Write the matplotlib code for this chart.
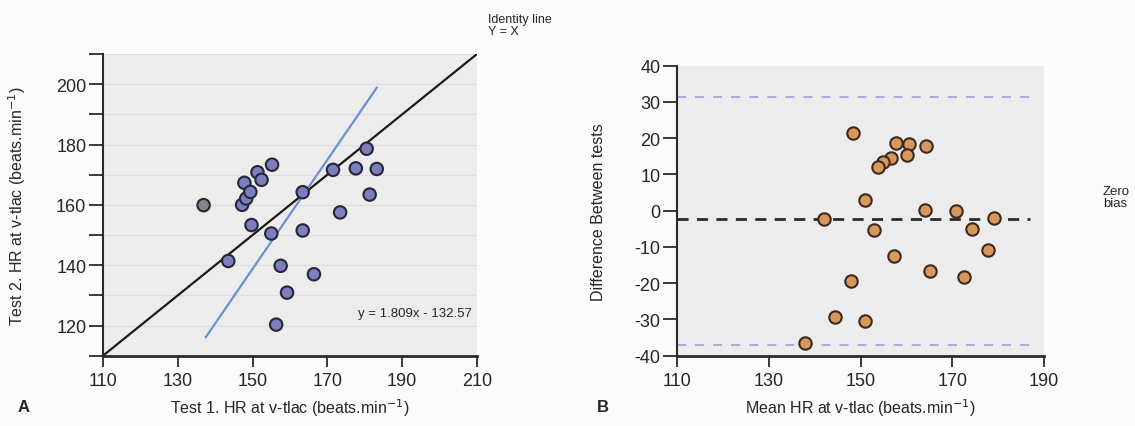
import numpy as np
import matplotlib
matplotlib.use('Agg')
import matplotlib.pyplot as plt

plt.rcParams['font.family'] = ['Liberation Sans', 'DejaVu Sans']
plt.rcParams['axes.unicode_minus'] = False

# Panel A: test 1 vs test 2 HR at v-tlac
test1 = [136.9, 143.5, 147.8, 147.2, 148.3, 149.4, 149.7, 151.3, 152.4, 155.2, 155.0, 156.3,
         157.5, 159.2, 163.4, 163.4, 166.4, 171.5, 173.4, 177.6, 180.5, 181.3, 183.2]
test2 = [159.9, 141.4, 167.3, 160.0, 162.1, 164.3, 153.3, 170.8, 168.3, 173.3, 150.5, 120.3,
         139.8, 130.9, 164.2, 151.5, 137.0, 171.6, 157.5, 172.1, 178.6, 163.4, 171.9]
slope, intercept = 1.809, -132.57
fit_range = [137.5, 183.2]

# Panel B: Bland-Altman
mean_hr = [148.4, 157.7, 160.6, 164.3, 160.1, 156.7, 154.8, 153.8, 150.9, 164.0, 170.8, 142.1,
           179.0, 152.9, 174.4, 177.7, 157.4, 165.1, 172.5, 147.9, 144.5, 150.9, 137.9]
diff = [21.4, 18.7, 18.3, 17.8, 15.4, 14.5, 13.3, 12.1, 3.0, 0.2, -0.2, -2.3,
        -1.9, -5.3, -5.1, -10.9, -12.5, -16.6, -18.3, -19.3, -29.2, -30.3, -36.5]
bias = -2.2
upper_loa = 31.3
lower_loa = -37.0

fig = plt.figure(figsize=(11.35, 4.27), dpi=100)
fig.patch.set_facecolor('#fbfbfb')

bg = '#ececec'
txt = '#262626'
axA = fig.add_axes([103 / 1135, 1 - 356.7 / 427, 374 / 1135, 301.7 / 427])
axB = fig.add_axes([677 / 1135, 1 - 356.7 / 427, 367 / 1135, 290 / 427])

# ---- panel A ----
axA.set_facecolor(bg)
for yv in range(120, 211, 10):
    axA.axhline(yv, color='#dedede', lw=0.8, zorder=0)
axA.plot([110, 210], [110, 210], color='#1a1a1a', lw=1.6, zorder=2)
xf = np.array(fit_range)
axA.plot(xf, slope * xf + intercept, color='#6f8ed6', lw=1.6, zorder=2)
faces = ['#7f8a85'] + ['#7b7fc0'] * (len(test1) - 1)
axA.scatter(test1, test2, s=80, c=faces, edgecolors='#262638', linewidths=1.5, zorder=3)
axA.set_xlim(110, 210)
axA.set_ylim(110, 210)
axA.set_xticks(range(110, 211, 20))
axA.set_yticks(range(120, 201, 20))
axA.set_yticks(range(110, 211, 10), minor=True)
axA.text(208.5, 124.2, 'y = 1.809x - 132.57', ha='right', va='center', fontsize=9.5, color=txt)
axA.set_ylabel('Test 2. HR at v-tlac (beats.min$^{-1}$)', fontsize=11.5, color=txt)
axA.yaxis.set_label_coords((28 - 103) / 374, 0.5)
fig.text(290 / 1135, 1 - 408 / 427, 'Test 1. HR at v-tlac (beats.min$^{-1}$)', ha='center', va='center',
         fontsize=11.5, color=txt)

fig.text(488 / 1135, 1 - 14 / 427, 'Identity line\nY = X', ha='left', va='top', fontsize=9,
         color=txt, linespacing=0.95)
fig.text(18 / 1135, 1 - 408 / 427, 'A', ha='left', va='center', fontsize=12, fontweight='bold', color=txt)

# ---- panel B ----
axB.set_facecolor(bg)
axB.plot([110, 187], [upper_loa, upper_loa], color='#a3a6dc', lw=1.3, dashes=(5, 5), zorder=1)
axB.plot([110, 187], [lower_loa, lower_loa], color='#a3a6dc', lw=1.3, dashes=(5, 5), zorder=1)
axB.plot([110, 187], [bias, bias], color='#2b2b2b', lw=2, dashes=(4, 3), zorder=1)
axB.scatter(mean_hr, diff, s=80, c='#d8985c', edgecolors='#3c2a1e', linewidths=1.5, zorder=3)
axB.set_xlim(110, 190)
axB.set_ylim(-40, 40)
axB.set_xticks(range(110, 191, 20))
axB.set_yticks(range(-40, 41, 10))
axB.set_ylabel('Difference Between tests', fontsize=11.5, color=txt)
axB.yaxis.set_label_coords((606 - 677) / 367, 0.5)
fig.text(860 / 1135, 1 - 408 / 427, 'Mean HR at v-tlac (beats.min$^{-1}$)', ha='center', va='center',
         fontsize=11.5, color=txt)

fig.text(1103 / 1135, 1 - 198 / 427, 'Zero\nbias', ha='left', va='center', fontsize=9.5,
         color=txt, linespacing=0.95)
fig.text(597 / 1135, 1 - 408 / 427, 'B', ha='left', va='center', fontsize=12, fontweight='bold', color=txt)

for ax in (axA, axB):
    for side in ('top', 'right'):
        ax.spines[side].set_visible(False)
    ax.spines['left'].set_linewidth(1.5)
    ax.spines['bottom'].set_linewidth(2.0)
    ax.spines['left'].set_color('#2a2a2a')
    ax.spines['bottom'].set_color('#2a2a2a')
    ax.tick_params(axis='y', which='both', length=10, width=1.3, color='#2a2a2a',
                   labelsize=13, labelcolor=txt, pad=2)
    ax.tick_params(axis='x', which='both', length=8, width=1.3, color='#2a2a2a',
                   labelsize=13, labelcolor=txt, pad=4)

fig.savefig('out.png', dpi=100, facecolor=fig.get_facecolor())
